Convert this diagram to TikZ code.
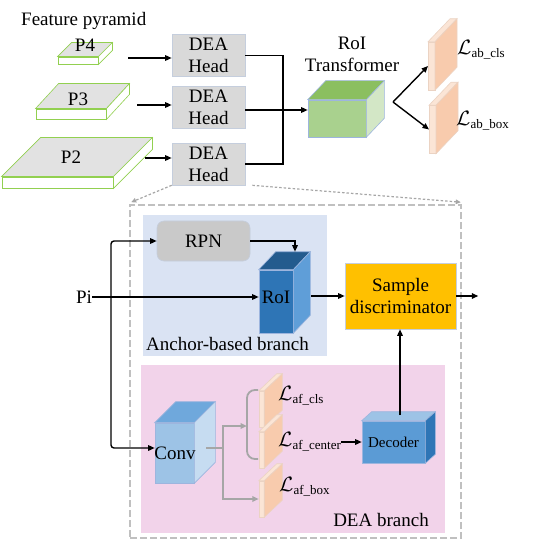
\documentclass[tikz,border=0pt]{standalone}
\usepackage{fontspec}
\setmainfont{Liberation Serif}
\usetikzlibrary{arrows.meta,calc}
\definecolor{slabgreen}{HTML}{92D050}
\definecolor{slabtop}{HTML}{E2E2E2}
\definecolor{deafill}{HTML}{D9D9D9}
\definecolor{deaedge}{HTML}{C5CEDD}
\definecolor{gfront}{HTML}{A9D18E}
\definecolor{gtop}{HTML}{8BBF60}
\definecolor{gside}{HTML}{D3E7C6}
\definecolor{cubeedge}{HTML}{9DB5DE}
\definecolor{ofront}{HTML}{FBE5D6}
\definecolor{oside}{HTML}{F8CBAD}
\definecolor{oedge}{HTML}{EBD3C3}
\definecolor{anchorbg}{HTML}{DAE3F3}
\definecolor{deabg}{HTML}{F2D3EA}
\definecolor{rpnfill}{HTML}{C9C9C9}
\definecolor{rfront}{HTML}{2E75B6}
\definecolor{rtop}{HTML}{235B8E}
\definecolor{rside}{HTML}{5F9ED8}
\definecolor{sampfill}{HTML}{FFC000}
\definecolor{cfront}{HTML}{9DC3E6}
\definecolor{ctop}{HTML}{6FA8DC}
\definecolor{cside}{HTML}{C6DCF1}
\definecolor{dfront}{HTML}{5B9BD5}
\definecolor{dtop}{HTML}{9DC3E6}
\definecolor{dside}{HTML}{2E75B6}
\definecolor{dashgray}{HTML}{C0C0C0}
\definecolor{linegray}{HTML}{A6A6A6}
\newcommand\lossL[1]{{\fontsize{20}{20}\selectfont$\mathcal{L}$}\raisebox{-0.3ex}{\fontsize{13}{13}\selectfont #1}}
% faces of a box whose front face is node #1; offset (#2,#3); top colour #4, side colour #5, edge #6
\newcommand\boxfaces[6]{%
  \filldraw[draw=#6, fill=#4, line width=0.6pt] (#1.north west) -- ++(#2,#3) -- ([shift={(#2,#3)}]#1.north east) -- (#1.north east) -- cycle;
  \filldraw[draw=#6, fill=#5, line width=0.6pt] (#1.north east) -- ([shift={(#2,#3)}]#1.north east) -- ([shift={(#2,#3)}]#1.south east) -- (#1.south east) -- cycle;
}
\begin{document}
\begin{tikzpicture}[x=1pt,y=-1pt,
  every node/.style={font=\fontsize{19}{22}\selectfont, inner sep=0pt},
  front/.style={minimum width=#1, draw, line width=0.6pt},
  arr/.style={-{Triangle[length=6.5pt,width=5.5pt]}, line width=1.4pt, black},
  blk/.style={line width=1.4pt, black},
  gline/.style={line width=1.8pt, linegray},
  garr/.style={-{Triangle[length=6.5pt,width=5.5pt]}, line width=1.8pt, linegray},
  dotl/.style={-{Triangle[length=5pt,width=4.5pt]}, line width=1.2pt, linegray, dash pattern=on 2.5pt off 2pt},
  deahead/.style={fill=deafill, draw=deaedge, line width=0.6pt, minimum width=73pt, minimum height=42pt, align=center},
  slab/.style={fill=white, draw=slabgreen, line width=0.9pt},
]
\useasboundingbox (0,0) rectangle (556,545);

% ---------- feature pyramid ----------
\node[anchor=west] (fp) at (21,21) {Feature pyramid};

\node[slab, minimum width=40pt, minimum height=7pt] (p4) at (78,60.5) {};
\boxfaces{p4}{14}{-14}{slabtop}{white}{slabgreen}
\node (p4l) at (85,45) {P4};

\node[slab, minimum width=70pt, minimum height=10pt] (p3) at (71,114) {};
\boxfaces{p3}{23}{-25}{slabtop}{white}{slabgreen}
\node (p3l) at (78,99) {P3};

\node[slab, minimum width=111pt, minimum height=11pt] (p2) at (57.5,182.5) {};
\boxfaces{p2}{39}{-39}{slabtop}{white}{slabgreen}
\node (p2l) at (71,157) {P2};

% ---------- DEA heads ----------
\node[deahead] (dea1) at (208.5,55.5) {DEA\\Head};
\node[deahead] (dea2) at (208.5,107.5) {DEA\\Head};
\node[deahead] (dea3) at (208.5,164) {DEA\\Head};

\coordinate (a4) at (128,58);
\coordinate (a3) at (137,105);
\coordinate (a2) at (145,158);
\draw[arr] (a4) -- (a4 -| dea1.west);
\draw[arr] (a3) -- (a3 -| dea2.west);
\draw[arr] (a2) -- (a2 -| dea3.west);

% ---------- RoI transformer ----------
\node[fill=gfront, draw=cubeedge, line width=0.6pt, minimum width=58pt, minimum height=37pt] (rt) at (337,118.5) {};
\boxfaces{rt}{18}{-19}{gtop}{gside}{cubeedge}
\node[align=center] (rtl) at (352,54) {RoI\\Transformer};

\coordinate (mj) at (283,110);
\draw[blk] (dea1.east) -| (mj |- dea3.east) -- (dea3.east);
\draw[arr] (dea2.east |- mj) -- (mj -| rt.west);

% ---------- ab losses ----------
\node[fill=ofront, draw=oedge, line width=0.5pt, minimum width=6.5pt, minimum height=48pt] (ab1) at (431.5,66) {};
\boxfaces{ab1}{22}{-23}{ofront}{oside}{oedge}
\node[fill=ofront, draw=oedge, line width=0.5pt, minimum width=6.5pt, minimum height=48pt] (ab2) at (432.5,129.5) {};
\boxfaces{ab2}{22}{-23}{ofront}{oside}{oedge}
\node[anchor=west] (lab1) at (457,50) {\lossL{ab\_cls}};
\node[anchor=west] (lab2) at (456,121) {\lossL{ab\_box}};

\coordinate (apex) at (393,102);
\draw[arr] (apex) -- (ab1.west);
\draw[arr] (apex) -- (ab2.west);

% ---------- detail frame ----------
\node[draw=dashgray, line width=1.6pt, dash pattern=on 7pt off 3pt, minimum width=331pt, minimum height=333pt] (outer) at (295.5,371.5) {};
\draw[dotl] (dea3.south west) -- ([shift={(2,-2)}]outer.north west);
\draw[dotl] ([xshift=7pt]dea3.south east) -- ([shift={(-1,-2)}]outer.north east);

\node[fill=anchorbg, minimum width=184pt, minimum height=141pt] (abr) at (235,285.5) {};
\node[fill=deabg, minimum width=304pt, minimum height=168pt] (dear) at (293,449) {};
\node[anchor=west] (abrl) at (146,344) {Anchor-based branch};
\node (dearl) at (381,520) {DEA branch};

% ---------- anchor-based branch ----------
\node[fill=rpnfill, draw=deaedge, line width=0.6pt, rounded corners=7pt, minimum width=93pt, minimum height=40pt] (rpn) at (203.5,241) {RPN};

\node[fill=rfront, draw=cubeedge, line width=0.6pt, minimum width=34pt, minimum height=63pt] (roi) at (276,301.5) {};
\boxfaces{roi}{17}{-18}{rtop}{rside}{cubeedge}
\node (roil) at (276,297) {RoI};

\node[fill=sampfill, draw=deaedge, line width=0.6pt, minimum width=111pt, minimum height=66pt, align=center] (samp) at (400.5,296) {Sample\\discriminator};

\node[anchor=center] (pi) at (84,297) {Pi};
\coordinate (br) at (111,297);
\coordinate (roitop) at ([shift={(19,-18)}]roi.north);
\draw[arr] (pi.east) -- (pi.east -| roi.west);
\draw[arr, rounded corners=3pt] (br) |- (rpn.west);
\draw[arr] (rpn.east) -| (roitop);
\draw[arr] ([xshift=18pt]samp.west -| roi.east) -- (samp.west);
\coordinate (outp) at ([xshift=22pt]samp.east);
\draw[arr] (samp.east) -- (outp);

% ---------- DEA branch ----------
\node[fill=cfront, draw=cubeedge, line width=0.6pt, minimum width=39pt, minimum height=60pt] (conv) at (174.5,453) {};
\boxfaces{conv}{21}{-21}{ctop}{cside}{cubeedge}
\node (convl) at (175,453) {Conv};
\draw[arr, rounded corners=3pt] (br) |- ([yshift=5pt]conv.west);

\foreach \n/\yy in {af1/409, af2/450, af3/499}{
  \node[fill=ofront, draw=oedge, line width=0.5pt, minimum width=5pt, minimum height=36pt] (\n) at (261.5,\yy) {};
  \boxfaces{\n}{18}{-17}{ofront}{oside}{oedge}
}
\node[anchor=west] (laf1) at (278,396) {\lossL{af\_cls}};
\node[anchor=west] (laf2) at (278,442) {\lossL{af\_center}};
\node[anchor=west] (laf3) at (279,487) {\lossL{af\_box}};

\coordinate (cs) at (206,448);
\coordinate (cj) at (223,448);
\coordinate (bm) at (247,426);
\draw[gline] (cs) -- (cj);
\draw[garr] (cj) |- (bm);
\draw[garr] (cj) |- (af3.west);
\draw[gline, rounded corners=8pt] (258,390) -- (247,390) -- (247,459) -- (258,459);

\node[fill=dfront, draw=cubeedge, line width=0.6pt, minimum width=63pt, minimum height=42pt, font=\fontsize{15}{17}\selectfont] (dec) at (393.5,442) {Decoder};
\boxfaces{dec}{10}{-9}{dtop}{dside}{cubeedge}
\draw[arr] (laf2.east) -- (laf2.east -| dec.west);
\coordinate (dectop) at (400,415);
\draw[arr] (dectop) -- (dectop |- samp.south);
\end{tikzpicture}
\end{document}
